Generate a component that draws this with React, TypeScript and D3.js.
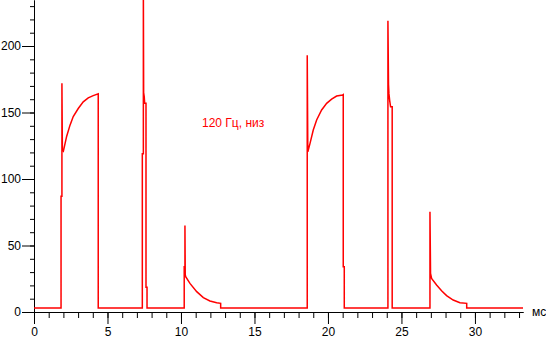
import { useEffect, useRef } from "react";
import * as d3 from "d3";

// signal samples: [time in ms, value]
const signal: [number, number][] = [
  [0, 3], [1.84, 3], [1.84, 87], [1.9, 87], [1.9, 172], [1.93, 122],
  [2.0, 121], [2.22, 132], [2.45, 140.5], [2.67, 147], [3.01, 153],
  [3.35, 158], [3.69, 161], [4.03, 162.7], [4.37, 164], [4.37, 3],
  [7.37, 3], [7.37, 119], [7.44, 119], [7.44, 245], [7.46, 165],
  [7.5, 162], [7.53, 157], [7.62, 157], [7.62, 18.6], [7.69, 18.6], [7.69, 3],
  [10.22, 3], [10.22, 34], [10.27, 34], [10.27, 65], [10.29, 28],
  [10.32, 26.5], [10.61, 21.5], [11.07, 15.3], [11.52, 10.8], [11.97, 8.3],
  [12.43, 7], [12.7, 6.5], [12.7, 3],
  [18.59, 3], [18.59, 193], [18.63, 120.5], [18.78, 126.8], [19.0, 136.8],
  [19.23, 144.4], [19.57, 151.9], [19.91, 156.9], [20.25, 160],
  [20.59, 162.4], [21.0, 163.2], [21.04, 163.5], [21.04, 34], [21.11, 34], [21.11, 3],
  [24.08, 3], [24.08, 219], [24.12, 171], [24.15, 164], [24.2, 159],
  [24.26, 154.4], [24.37, 154.4], [24.37, 3],
  [26.94, 3], [26.94, 75.4], [26.98, 29], [27.05, 25.3], [27.39, 20.3],
  [27.73, 16], [28.07, 12.3], [28.52, 9], [28.98, 7], [29.44, 6.5],
  [29.44, 3], [33.27, 3],
];

const xMajor = [0, 5, 10, 15, 20, 25, 30];
const xMinor = d3.range(0, 34, 1);
const yMajor = [0, 50, 100, 150, 200];
const yMinor = d3.range(0, 235, 10);
const xUnit = "мс";
const note = { text: "120 Гц, низ", t: 11.43, v: 139 };

const FONT = "'Liberation Sans', Arial, sans-serif";

export default function App() {
  const ref = useRef<SVGSVGElement>(null);

  useEffect(() => {
    if (!ref.current) return;
    const svg = d3.select(ref.current);
    svg.selectAll("*").remove();

    const x = d3.scaleLinear().domain([0, 33.27]).range([34, 523]);
    const y = d3.scaleLinear().domain([0, 234.6]).range([312, 0]);

    // x axis
    const gx = svg.append("g").attr("transform", "translate(0,312)");
    gx.call(
      d3.axisBottom(x).tickValues(xMinor).tickSize(6).tickSizeOuter(0).tickFormat(() => "")
    );
    gx.call((g) =>
      g.append("g").call(
        d3.axisBottom(x).tickValues(xMajor).tickSize(12).tickSizeOuter(0).tickPadding(3)
      )
    );

    // y axis
    const gy = svg.append("g").attr("transform", "translate(34,0)");
    gy.call(
      d3.axisLeft(y).tickValues(yMinor).tickSize(4).tickSizeOuter(0).tickFormat(() => "")
    );
    gy.call((g) =>
      g.append("g").call(
        d3.axisLeft(y).tickValues(yMajor).tickSize(12).tickSizeOuter(0).tickPadding(1)
      )
    );

    svg.selectAll(".tick text")
      .attr("font-size", 12)
      .attr("font-family", FONT)
      .attr("fill", "#000");
    svg.selectAll(".domain, .tick line").attr("stroke", "#000");
    svg.selectAll("g").attr("font-family", FONT);

    svg.append("text")
      .attr("x", 532)
      .attr("y", 312)
      .attr("dy", "0.32em")
      .attr("font-size", 12)
      .attr("font-family", FONT)
      .text(xUnit);

    // signal
    const line = d3.line<[number, number]>()
      .x((d) => x(d[0]))
      .y((d) => y(d[1]));

    svg.append("path")
      .datum(signal)
      .attr("fill", "none")
      .attr("stroke", "#ff0000")
      .attr("stroke-width", 1.5)
      .attr("d", line);

    svg.append("text")
      .attr("x", x(note.t))
      .attr("y", y(note.v))
      .attr("font-size", 12)
      .attr("font-family", FONT)
      .attr("fill", "#ff0000")
      .text(note.text);
  }, []);

  return (
    <svg
      ref={ref}
      width={546}
      height={338}
      style={{ position: "absolute", left: 0, top: 0, background: "#fff" }}
    />
  );
}
